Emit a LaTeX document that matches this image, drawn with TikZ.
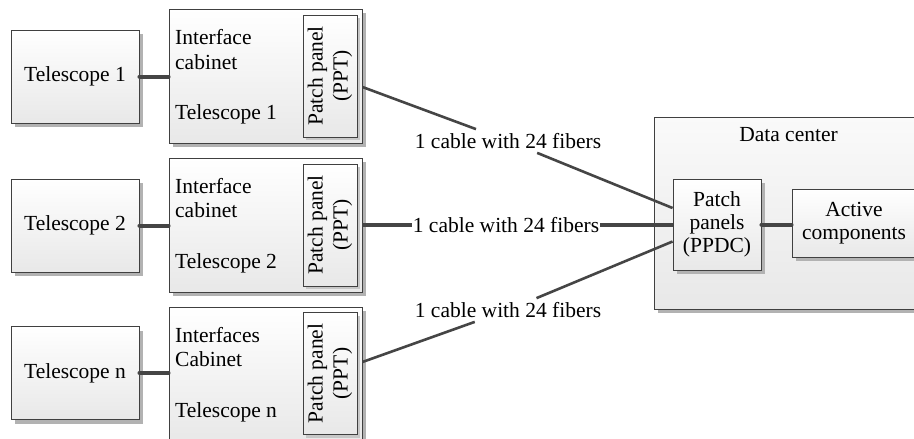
\documentclass[tikz,border=0pt]{standalone}
\usepackage{fontspec}
\setmainfont{Liberation Serif}
\usetikzlibrary{shadows}
\definecolor{edgegray}{HTML}{404040}
\definecolor{wiregray}{HTML}{454545}

\tikzset{
  txt/.style={font=\fontsize{21.5}{24}\selectfont, inner sep=0pt},
  boxbase/.style={draw=edgegray, line width=0.9pt, top color=white, bottom color=black!9,
    inner sep=0pt, align=center, font=\fontsize{21.5}{24}\selectfont},
  box/.style={boxbase, drop shadow={shadow xshift=4pt, shadow yshift=-4pt, fill=black!30, opacity=1}},
  panelbox/.style={boxbase, drop shadow={shadow xshift=3pt, shadow yshift=-3pt, fill=black!22, opacity=1}},
  centerbox/.style={draw=edgegray, line width=0.9pt, top color=black!2, bottom color=black!9,
    drop shadow={shadow xshift=4pt, shadow yshift=-4pt, fill=black!30, opacity=1}},
  scope box/.style={box, minimum width=128pt, minimum height=93pt},
  cabinet/.style={box, minimum width=193pt, minimum height=134pt},
  ppt/.style={panelbox, minimum width=54pt, minimum height=122pt},
  thickwire/.style={draw=wiregray, line width=4pt, line cap=round},
  thinwire/.style={draw=wiregray, line width=2.6pt},
  cablelabel/.style={txt, inner xsep=1pt, inner ysep=4pt},
}

\begin{document}
\begin{tikzpicture}[x=1pt, y=-1pt]
  \useasboundingbox (0,0) rectangle (914,439);
  \clip (0,0) rectangle (914,439);

  % data center enclosure
  \node[centerbox, minimum width=269pt, minimum height=192pt] (dc) at (788.5,213) {};
  \node[txt, anchor=base] (dctitle) at (788.5,141) {Data center};
  \node[box, minimum width=88pt, minimum height=91pt, font=\fontsize{21.5}{23}\selectfont] (ppdc) at (717,224.5) {Patch\\panels\\(PPDC)};
  \node[box, minimum width=124pt, minimum height=68pt, font=\fontsize{21.5}{23}\selectfont] (active) at (854,223) {Active\\components};

  % telescopes
  \node[scope box] (t1) at (75,76.5) {Telescope 1};
  \node[scope box] (t2) at (75,225.5) {Telescope 2};
  \node[scope box] (tn) at (75,373) {Telescope n};

  % interface cabinets
  \node[cabinet] (c1) at (265.5,76) {};
  \node[cabinet] (c2) at (265.5,225) {};
  \node[cabinet] (cn) at (265.5,374) {};

  \node[txt, anchor=base west] (c1a) at (175,45) {Interface};
  \node[txt, anchor=base west] (c1b) at (175,69) {cabinet};
  \node[txt, anchor=base west] (c1c) at (175,119) {Telescope 1};

  \node[txt, anchor=base west] (c2a) at (175,193) {Interface};
  \node[txt, anchor=base west] (c2b) at (175,217) {cabinet};
  \node[txt, anchor=base west] (c2c) at (175,268) {Telescope 2};

  \node[txt, anchor=base west] (cna) at (175,342) {Interfaces};
  \node[txt, anchor=base west] (cnb) at (175,366) {Cabinet};
  \node[txt, anchor=base west] (cnc) at (175,417) {Telescope n};

  % patch panels inside the cabinets
  \node[ppt] (p1) at (330,76) {};
  \node[ppt] (p2) at (330,225) {};
  \node[ppt] (pn) at (330,373.5) {};
  \foreach \p in {p1,p2,pn}
    \node[txt, rotate=90, align=center, font=\fontsize{21.5}{25}\selectfont] (\p-text) at (\p.center) {Patch panel\\(PPT)};

  % short links telescope -> cabinet
  \draw[thickwire] (t1.east) -- (c1.west |- t1.east);
  \draw[thickwire] (t2.east) -- (c2.west |- t2.east);
  \draw[thickwire] (tn.east) -- (cn.west |- tn.east);

  % fiber cables to the data center
  \node[cablelabel] (l1) at (508,141) {1 cable with 24 fibers};
  \node[cablelabel, inner ysep=1pt] (l2) at (506,225) {1 cable with 24 fibers};
  \node[cablelabel] (ln) at (508,310) {1 cable with 24 fibers};

  \coordinate (c1out) at ([yshift=-11pt]c1.east);
  \coordinate (cnout) at ([yshift=12pt]cn.east);
  \coordinate (ppdc1) at ([yshift=16.5pt]ppdc.west);
  \coordinate (ppdcn) at ([yshift=-17pt]ppdc.west);

  \draw[thinwire] (c1out) -- (l1);
  \draw[thinwire] (l1) -- (ppdc1);
  \draw[thickwire, line cap=butt] (c2.east) -- (l2.west);
  \draw[thickwire, line cap=butt] (l2.east) -- (ppdc.west |- l2.east);
  \draw[thinwire] (cnout) -- (ln);
  \draw[thinwire] (ln) -- (ppdcn);

  % link inside the data center
  \draw[thickwire] (ppdc.east) -- (active.west |- ppdc.east);
\end{tikzpicture}
\end{document}
